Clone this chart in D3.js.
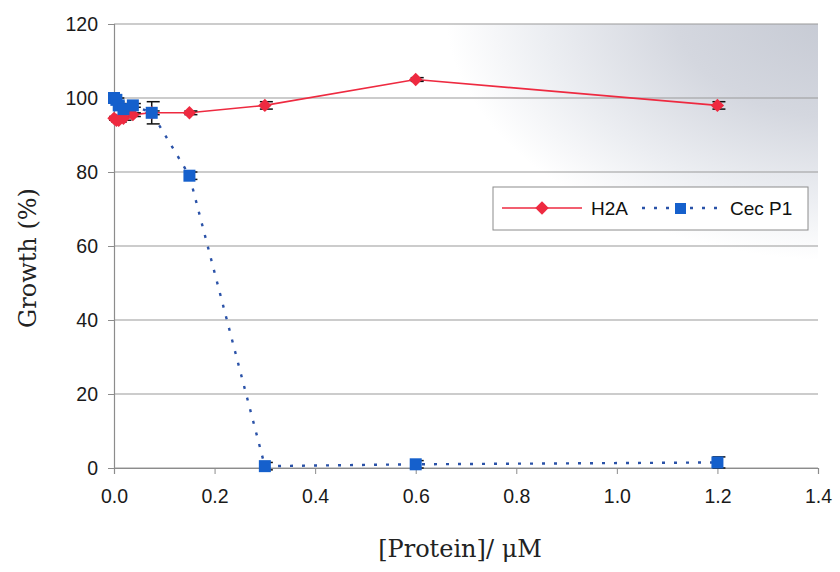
<!DOCTYPE html>
<html><head><meta charset="utf-8">
<script src="https://cdn.jsdelivr.net/npm/d3@7"></script>
<style>body{margin:0;background:#fff}svg{display:block}</style>
</head><body>
<script>
// ---- data ----
const concentrations = [0, 0.0047, 0.0094, 0.0188, 0.0375, 0.075, 0.15, 0.3, 0.6, 1.2];
const h2aGrowth   = [94.5, 94, 94, 94.5, 95.5, 96, 96, 98, 105, 98];
const h2aError    = [0.5, 0.5, 0.5, 0.5, 0.5, 0.5, 0.5, 1, 0.5, 1];
const cecGrowth   = [100, 99.5, 98, 97, 98, 96, 79, 0.5, 1, 1.5];
const cecError    = [0.5, 0.5, 0.5, 0.5, 0.5, 3, 1, 1, 1, 1.5];
const seriesNames = ["H2A", "Cec P1"];
const xTicks = [0, 0.2, 0.4, 0.6, 0.8, 1.0, 1.2, 1.4];
const yTicks = [0, 20, 40, 60, 80, 100, 120];

const W = 840, H = 572;
const svg = d3.select("body").append("svg").attr("width", W).attr("height", H);
const x = d3.scaleLinear().domain([0, 1.4]).range([114, 818]);
const y = d3.scaleLinear().domain([0, 120]).range([468, 24]);

// background gradient
const defs = svg.append("defs");
const rg = defs.append("radialGradient").attr("id", "bg")
  .attr("gradientUnits", "userSpaceOnUse")
  .attr("cx", 850).attr("cy", 10).attr("r", 440)
  .attr("gradientTransform", "translate(850,10) scale(1,0.62) translate(-850,-10)");
rg.append("stop").attr("offset", 0).attr("stop-color", "#c4c8d2");
rg.append("stop").attr("offset", 0.4).attr("stop-color", "#d4d7df");
rg.append("stop").attr("offset", 0.7).attr("stop-color", "#eceef2");
rg.append("stop").attr("offset", 0.92).attr("stop-color", "#ffffff");
svg.append("rect").attr("x", x(0)).attr("y", y(120)).attr("width", x(1.4) - x(0)).attr("height", y(0) - y(120))
  .attr("fill", "url(#bg)");

// gridlines
svg.append("g").selectAll("line").data(yTicks).join("line")
  .attr("x1", x(0)).attr("x2", x(1.4)).attr("y1", d => y(d)).attr("y2", d => y(d))
  .attr("stroke", "#9a9a9a").attr("stroke-width", 1.2);

// axes
const fontSans = "'Liberation Sans', Arial, sans-serif";
const yAxis = svg.append("g").attr("transform", `translate(${x(0)},0)`)
  .call(d3.axisLeft(y).tickValues(yTicks).tickSize(6).tickPadding(10).tickFormat(d3.format("d")));
const xAxis = svg.append("g").attr("transform", `translate(0,${y(0)})`)
  .call(d3.axisBottom(x).tickValues(xTicks).tickSize(6).tickPadding(15).tickFormat(d3.format(".1f")));
[yAxis, xAxis].forEach(a => {
  a.select(".domain").attr("stroke", "#8c8c8c").attr("stroke-width", 1.2);
  a.selectAll(".tick line").attr("stroke", "#8c8c8c");
  a.selectAll("text").attr("font-family", fontSans).attr("font-size", 19.5).attr("fill", "#1a1a1a");
});

// axis titles
svg.append("text").attr("transform", "translate(36,258) rotate(-90)").attr("text-anchor", "middle")
  .attr("font-family", "'DejaVu Serif', serif").attr("font-size", 24).attr("fill", "#222").text("Growth (%)");
svg.append("text").attr("x", 460).attr("y", 557).attr("text-anchor", "middle")
  .attr("font-family", "'DejaVu Serif', serif").attr("font-size", 24).attr("fill", "#222").text("[Protein]/ μM");

const red = "#ee2a40", blue = "#1560cc", dotBlue = "#2a52a8";
const h2a = concentrations.map((c, i) => ({x: c, y: h2aGrowth[i], e: h2aError[i]}));
const cec = concentrations.map((c, i) => ({x: c, y: cecGrowth[i], e: cecError[i]}));
const line = d3.line().x(d => x(d.x)).y(d => y(d.y));

// lines
svg.append("path").datum(cec).attr("d", line).attr("fill", "none")
  .attr("stroke", dotBlue).attr("stroke-width", 2.4).attr("stroke-dasharray", "3,9");
svg.append("path").datum(h2a).attr("d", line).attr("fill", "none")
  .attr("stroke", red).attr("stroke-width", 1.6);

// error bars
function errorBars(data) {
  const g = svg.append("g").attr("stroke", "#111").attr("stroke-width", 1.5);
  data.forEach(d => {
    g.append("line").attr("x1", x(d.x)).attr("x2", x(d.x)).attr("y1", y(d.y - d.e)).attr("y2", y(d.y + d.e));
    [d.y - d.e, d.y + d.e].forEach(v => g.append("line")
      .attr("x1", x(d.x) - 5).attr("x2", x(d.x) + 8).attr("y1", y(v)).attr("y2", y(v)));
  });
}
errorBars(cec);
errorBars(h2a);

// markers
const diamond = d3.symbol(d3.symbolSquare, 90)();
svg.append("g").selectAll("path").data(h2a).join("path")
  .attr("d", diamond)
  .attr("transform", d => `translate(${x(d.x)},${y(d.y)}) rotate(45)`).attr("fill", red);
svg.append("g").selectAll("rect").data(cec).join("rect")
  .attr("x", d => x(d.x) - 6).attr("y", d => y(d.y) - 6).attr("width", 12).attr("height", 12).attr("fill", blue);

// legend
const lg = svg.append("g");
lg.append("rect").attr("x", 493).attr("y", 187).attr("width", 315).attr("height", 43)
  .attr("fill", "#fff").attr("stroke", "#8c8c8c").attr("stroke-width", 1);
lg.append("line").attr("x1", 502).attr("x2", 582).attr("y1", 208).attr("y2", 208).attr("stroke", red).attr("stroke-width", 1.6);
lg.append("path").attr("d", diamond).attr("transform", "translate(542,208) rotate(45)").attr("fill", red);
lg.append("text").attr("x", 591).attr("y", 215).attr("font-family", fontSans).attr("font-size", 19).attr("fill", "#111").text(seriesNames[0]);
lg.append("line").attr("x1", 642).attr("x2", 718).attr("y1", 208).attr("y2", 208)
  .attr("stroke", dotBlue).attr("stroke-width", 2.4).attr("stroke-dasharray", "3,9");
lg.append("rect").attr("x", 675).attr("y", 203).attr("width", 11).attr("height", 11).attr("fill", blue);
lg.append("text").attr("x", 730).attr("y", 215).attr("font-family", fontSans).attr("font-size", 19).attr("fill", "#111").text(seriesNames[1]);
</script>
</body></html>
